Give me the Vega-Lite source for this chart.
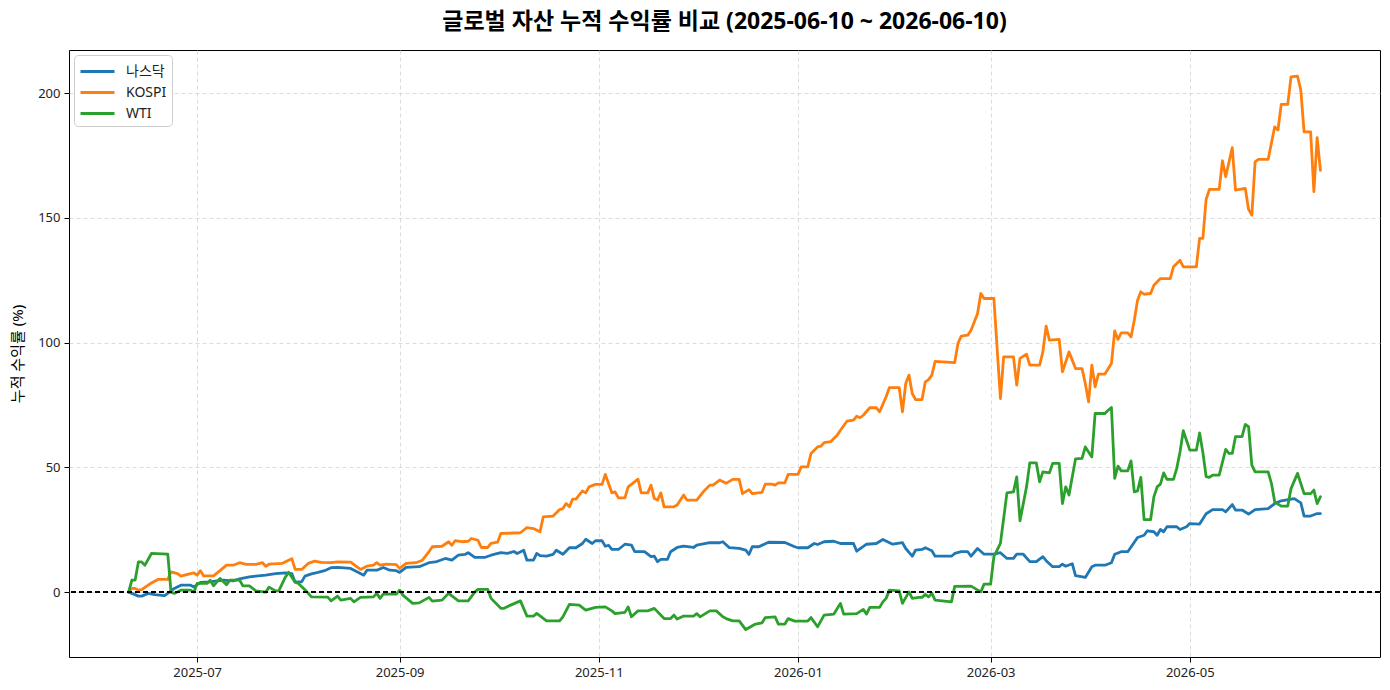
{
"$schema": "https://vega.github.io/schema/vega-lite/v6.json",
"autosize": "none",
"width": 1311,
"height": 607,
"padding": {"left": 69, "top": 50, "right": 10, "bottom": 33},
"background": "white",
"title": {"text": "글로벌 자산 누적 수익률 비교 (2025-06-10 ~ 2026-06-10)", "font": "Noto Sans, Noto Sans CJK KR", "fontSize": 23, "fontWeight": "bold", "color": "#000000", "anchor": "middle", "offset": 16},
"config": {
"font": "Noto Sans, Noto Sans CJK KR",
"view": {"stroke": "#000000", "strokeWidth": 1},
"axis": {"domain": false, "grid": true, "gridColor": "#d3d3d3", "gridDash": [4, 3], "gridWidth": 0.8, "tickColor": "#000000", "tickSize": 5, "labelFont": "Noto Sans, Noto Sans CJK KR", "labelFontSize": 13, "labelColor": "#222222", "labelPadding": 4, "titleFont": "Noto Sans, Noto Sans CJK KR", "titleFontWeight": "normal", "titleColor": "#000000"}
},
"data": {"values": [
{"date":"2025-06-10","asset":"나스닥","value":0},{"date":"2025-06-12","asset":"나스닥","value":-1},{"date":"2025-06-13","asset":"나스닥","value":-1.6},{"date":"2025-06-14","asset":"나스닥","value":-1.6},{"date":"2025-06-16","asset":"나스닥","value":-0.5},{"date":"2025-06-18","asset":"나스닥","value":-1},{"date":"2025-06-21","asset":"나스닥","value":-1.4},{"date":"2025-06-22","asset":"나스닥","value":-0.5},{"date":"2025-06-24","asset":"나스닥","value":1.5},{"date":"2025-06-26","asset":"나스닥","value":2.8},{"date":"2025-06-29","asset":"나스닥","value":2.8},{"date":"2025-06-30","asset":"나스닥","value":2.1},{"date":"2025-07-02","asset":"나스닥","value":3.9},{"date":"2025-07-05","asset":"나스닥","value":4.1},{"date":"2025-07-07","asset":"나스닥","value":4.5},{"date":"2025-07-09","asset":"나스닥","value":4.8},{"date":"2025-07-12","asset":"나스닥","value":4.5},{"date":"2025-07-14","asset":"나스닥","value":5.3},{"date":"2025-07-17","asset":"나스닥","value":6.1},{"date":"2025-07-19","asset":"나스닥","value":6.4},{"date":"2025-07-22","asset":"나스닥","value":6.8},{"date":"2025-07-25","asset":"나스닥","value":7.4},{"date":"2025-07-28","asset":"나스닥","value":7.7},{"date":"2025-07-30","asset":"나스닥","value":7.4},{"date":"2025-07-31","asset":"나스닥","value":4.1},{"date":"2025-08-02","asset":"나스닥","value":4.1},{"date":"2025-08-03","asset":"나스닥","value":6.4},{"date":"2025-08-05","asset":"나스닥","value":7.3},{"date":"2025-08-07","asset":"나스닥","value":7.9},{"date":"2025-08-09","asset":"나스닥","value":8.6},{"date":"2025-08-11","asset":"나스닥","value":9.8},{"date":"2025-08-13","asset":"나스닥","value":9.9},{"date":"2025-08-17","asset":"나스닥","value":9.5},{"date":"2025-08-20","asset":"나스닥","value":7.5},{"date":"2025-08-21","asset":"나스닥","value":6.8},{"date":"2025-08-22","asset":"나스닥","value":8.8},{"date":"2025-08-25","asset":"나스닥","value":8.8},{"date":"2025-08-27","asset":"나스닥","value":9.9},{"date":"2025-08-29","asset":"나스닥","value":8.8},{"date":"2025-08-31","asset":"나스닥","value":8.6},{"date":"2025-09-01","asset":"나스닥","value":7.9},{"date":"2025-09-03","asset":"나스닥","value":9.9},{"date":"2025-09-07","asset":"나스닥","value":10.2},{"date":"2025-09-10","asset":"나스닥","value":11.8},{"date":"2025-09-12","asset":"나스닥","value":12.1},{"date":"2025-09-15","asset":"나스닥","value":13.5},{"date":"2025-09-17","asset":"나스닥","value":12.8},{"date":"2025-09-19","asset":"나스닥","value":14.8},{"date":"2025-09-21","asset":"나스닥","value":15.1},{"date":"2025-09-22","asset":"나스닥","value":15.8},{"date":"2025-09-24","asset":"나스닥","value":13.9},{"date":"2025-09-27","asset":"나스닥","value":13.9},{"date":"2025-09-29","asset":"나스닥","value":14.8},{"date":"2025-10-02","asset":"나스닥","value":15.8},{"date":"2025-10-04","asset":"나스닥","value":15.5},{"date":"2025-10-06","asset":"나스닥","value":16.3},{"date":"2025-10-07","asset":"나스닥","value":15.5},{"date":"2025-10-09","asset":"나스닥","value":16.8},{"date":"2025-10-10","asset":"나스닥","value":12.8},{"date":"2025-10-12","asset":"나스닥","value":12.8},{"date":"2025-10-13","asset":"나스닥","value":15.5},{"date":"2025-10-14","asset":"나스닥","value":14.6},{"date":"2025-10-16","asset":"나스닥","value":14.4},{"date":"2025-10-18","asset":"나스닥","value":15.1},{"date":"2025-10-19","asset":"나스닥","value":16.8},{"date":"2025-10-21","asset":"나스닥","value":15.2},{"date":"2025-10-23","asset":"나스닥","value":17.8},{"date":"2025-10-25","asset":"나스닥","value":17.8},{"date":"2025-10-27","asset":"나스닥","value":19.5},{"date":"2025-10-28","asset":"나스닥","value":21.2},{"date":"2025-10-30","asset":"나스닥","value":19.5},{"date":"2025-10-31","asset":"나스닥","value":20.6},{"date":"2025-11-02","asset":"나스닥","value":20.6},{"date":"2025-11-03","asset":"나스닥","value":18.4},{"date":"2025-11-04","asset":"나스닥","value":18.8},{"date":"2025-11-05","asset":"나스닥","value":17.1},{"date":"2025-11-07","asset":"나스닥","value":17.1},{"date":"2025-11-09","asset":"나스닥","value":19.2},{"date":"2025-11-11","asset":"나스닥","value":18.8},{"date":"2025-11-12","asset":"나스닥","value":16.2},{"date":"2025-11-15","asset":"나스닥","value":16.2},{"date":"2025-11-17","asset":"나스닥","value":14.2},{"date":"2025-11-18","asset":"나스닥","value":14.4},{"date":"2025-11-19","asset":"나스닥","value":12.2},{"date":"2025-11-20","asset":"나스닥","value":13.1},{"date":"2025-11-22","asset":"나스닥","value":13.1},{"date":"2025-11-23","asset":"나스닥","value":16.2},{"date":"2025-11-25","asset":"나스닥","value":17.9},{"date":"2025-11-27","asset":"나스닥","value":18.4},{"date":"2025-11-30","asset":"나스닥","value":17.9},{"date":"2025-12-01","asset":"나스닥","value":18.8},{"date":"2025-12-05","asset":"나스닥","value":19.8},{"date":"2025-12-08","asset":"나스닥","value":19.8},{"date":"2025-12-09","asset":"나스닥","value":20.2},{"date":"2025-12-11","asset":"나스닥","value":17.8},{"date":"2025-12-14","asset":"나스닥","value":17.5},{"date":"2025-12-16","asset":"나스닥","value":16.8},{"date":"2025-12-17","asset":"나스닥","value":15.1},{"date":"2025-12-18","asset":"나스닥","value":18.2},{"date":"2025-12-20","asset":"나스닥","value":18.2},{"date":"2025-12-23","asset":"나스닥","value":20},{"date":"2025-12-28","asset":"나스닥","value":19.9},{"date":"2025-12-31","asset":"나스닥","value":18.2},{"date":"2026-01-01","asset":"나스닥","value":17.8},{"date":"2026-01-04","asset":"나스닥","value":17.8},{"date":"2026-01-06","asset":"나스닥","value":19.5},{"date":"2026-01-07","asset":"나스닥","value":19.1},{"date":"2026-01-09","asset":"나스닥","value":20.2},{"date":"2026-01-12","asset":"나스닥","value":20.4},{"date":"2026-01-14","asset":"나스닥","value":19.5},{"date":"2026-01-18","asset":"나스닥","value":19.5},{"date":"2026-01-19","asset":"나스닥","value":16.4},{"date":"2026-01-22","asset":"나스닥","value":19.2},{"date":"2026-01-25","asset":"나스닥","value":19.5},{"date":"2026-01-27","asset":"나스닥","value":21.1},{"date":"2026-01-30","asset":"나스닥","value":19.2},{"date":"2026-02-02","asset":"나스닥","value":19.8},{"date":"2026-02-03","asset":"나스닥","value":17.5},{"date":"2026-02-05","asset":"나스닥","value":14.4},{"date":"2026-02-06","asset":"나스닥","value":16.8},{"date":"2026-02-08","asset":"나스닥","value":17.1},{"date":"2026-02-09","asset":"나스닥","value":17.8},{"date":"2026-02-11","asset":"나스닥","value":16.6},{"date":"2026-02-12","asset":"나스닥","value":14.4},{"date":"2026-02-17","asset":"나스닥","value":14.4},{"date":"2026-02-18","asset":"나스닥","value":15.5},{"date":"2026-02-20","asset":"나스닥","value":16.2},{"date":"2026-02-22","asset":"나스닥","value":16.2},{"date":"2026-02-23","asset":"나스닥","value":14.4},{"date":"2026-02-25","asset":"나스닥","value":17.5},{"date":"2026-02-27","asset":"나스닥","value":15.2},{"date":"2026-03-02","asset":"나스닥","value":15.2},{"date":"2026-03-04","asset":"나스닥","value":15.8},{"date":"2026-03-06","asset":"나스닥","value":13.5},{"date":"2026-03-08","asset":"나스닥","value":13.5},{"date":"2026-03-09","asset":"나스닥","value":15.2},{"date":"2026-03-11","asset":"나스닥","value":15.2},{"date":"2026-03-13","asset":"나스닥","value":12.2},{"date":"2026-03-15","asset":"나스닥","value":12.2},{"date":"2026-03-17","asset":"나스닥","value":14.2},{"date":"2026-03-18","asset":"나스닥","value":12.6},{"date":"2026-03-20","asset":"나스닥","value":10.2},{"date":"2026-03-22","asset":"나스닥","value":10.2},{"date":"2026-03-23","asset":"나스닥","value":11.2},{"date":"2026-03-24","asset":"나스닥","value":10.4},{"date":"2026-03-26","asset":"나스닥","value":11.4},{"date":"2026-03-27","asset":"나스닥","value":6.6},{"date":"2026-03-30","asset":"나스닥","value":5.9},{"date":"2026-04-01","asset":"나스닥","value":10.2},{"date":"2026-04-02","asset":"나스닥","value":10.8},{"date":"2026-04-05","asset":"나스닥","value":10.8},{"date":"2026-04-07","asset":"나스닥","value":11.8},{"date":"2026-04-08","asset":"나스닥","value":15.2},{"date":"2026-04-10","asset":"나스닥","value":16.2},{"date":"2026-04-12","asset":"나스닥","value":16.2},{"date":"2026-04-15","asset":"나스닥","value":21.9},{"date":"2026-04-17","asset":"나스닥","value":22.8},{"date":"2026-04-18","asset":"나스닥","value":24.6},{"date":"2026-04-20","asset":"나스닥","value":24.2},{"date":"2026-04-21","asset":"나스닥","value":22.8},{"date":"2026-04-22","asset":"나스닥","value":25.1},{"date":"2026-04-23","asset":"나스닥","value":24.2},{"date":"2026-04-24","asset":"나스닥","value":26.2},{"date":"2026-04-27","asset":"나스닥","value":26.2},{"date":"2026-04-28","asset":"나스닥","value":25.1},{"date":"2026-04-30","asset":"나스닥","value":26.2},{"date":"2026-05-01","asset":"나스닥","value":27.5},{"date":"2026-05-04","asset":"나스닥","value":27.3},{"date":"2026-05-06","asset":"나스닥","value":31.4},{"date":"2026-05-08","asset":"나스닥","value":33.1},{"date":"2026-05-11","asset":"나스닥","value":33.1},{"date":"2026-05-12","asset":"나스닥","value":32.2},{"date":"2026-05-14","asset":"나스닥","value":35.1},{"date":"2026-05-15","asset":"나스닥","value":32.9},{"date":"2026-05-17","asset":"나스닥","value":32.9},{"date":"2026-05-19","asset":"나스닥","value":31.3},{"date":"2026-05-21","asset":"나스닥","value":33.1},{"date":"2026-05-25","asset":"나스닥","value":33.5},{"date":"2026-05-27","asset":"나스닥","value":35.5},{"date":"2026-05-29","asset":"나스닥","value":36.6},{"date":"2026-06-02","asset":"나스닥","value":37.5},{"date":"2026-06-04","asset":"나스닥","value":35.8},{"date":"2026-06-05","asset":"나스닥","value":30.5},{"date":"2026-06-07","asset":"나스닥","value":30.5},{"date":"2026-06-09","asset":"나스닥","value":31.5},{"date":"2026-06-10","asset":"나스닥","value":31.5},
{"date":"2025-06-10","asset":"KOSPI","value":0},{"date":"2025-06-11","asset":"KOSPI","value":1.5},{"date":"2025-06-12","asset":"KOSPI","value":1.5},{"date":"2025-06-13","asset":"KOSPI","value":0.8},{"date":"2025-06-14","asset":"KOSPI","value":1},{"date":"2025-06-16","asset":"KOSPI","value":2.8},{"date":"2025-06-17","asset":"KOSPI","value":3.7},{"date":"2025-06-19","asset":"KOSPI","value":5.1},{"date":"2025-06-22","asset":"KOSPI","value":5.1},{"date":"2025-06-23","asset":"KOSPI","value":8.1},{"date":"2025-06-25","asset":"KOSPI","value":7.4},{"date":"2025-06-26","asset":"KOSPI","value":6.4},{"date":"2025-06-29","asset":"KOSPI","value":7.4},{"date":"2025-06-30","asset":"KOSPI","value":7.7},{"date":"2025-07-01","asset":"KOSPI","value":6.8},{"date":"2025-07-02","asset":"KOSPI","value":8.6},{"date":"2025-07-03","asset":"KOSPI","value":6.5},{"date":"2025-07-06","asset":"KOSPI","value":6.5},{"date":"2025-07-08","asset":"KOSPI","value":8.6},{"date":"2025-07-10","asset":"KOSPI","value":10.8},{"date":"2025-07-12","asset":"KOSPI","value":10.8},{"date":"2025-07-14","asset":"KOSPI","value":11.8},{"date":"2025-07-16","asset":"KOSPI","value":11.1},{"date":"2025-07-19","asset":"KOSPI","value":11.1},{"date":"2025-07-21","asset":"KOSPI","value":11.8},{"date":"2025-07-22","asset":"KOSPI","value":10.4},{"date":"2025-07-23","asset":"KOSPI","value":11.2},{"date":"2025-07-27","asset":"KOSPI","value":11.5},{"date":"2025-07-29","asset":"KOSPI","value":12.8},{"date":"2025-07-30","asset":"KOSPI","value":13.4},{"date":"2025-07-31","asset":"KOSPI","value":9.1},{"date":"2025-08-02","asset":"KOSPI","value":9.1},{"date":"2025-08-04","asset":"KOSPI","value":11.5},{"date":"2025-08-06","asset":"KOSPI","value":12.4},{"date":"2025-08-08","asset":"KOSPI","value":11.9},{"date":"2025-08-11","asset":"KOSPI","value":11.8},{"date":"2025-08-13","asset":"KOSPI","value":12.1},{"date":"2025-08-17","asset":"KOSPI","value":12},{"date":"2025-08-20","asset":"KOSPI","value":9.1},{"date":"2025-08-22","asset":"KOSPI","value":10.4},{"date":"2025-08-24","asset":"KOSPI","value":10.8},{"date":"2025-08-25","asset":"KOSPI","value":11.8},{"date":"2025-08-26","asset":"KOSPI","value":10.8},{"date":"2025-08-28","asset":"KOSPI","value":11.2},{"date":"2025-08-31","asset":"KOSPI","value":11},{"date":"2025-09-01","asset":"KOSPI","value":9.5},{"date":"2025-09-03","asset":"KOSPI","value":11.5},{"date":"2025-09-06","asset":"KOSPI","value":11.8},{"date":"2025-09-08","asset":"KOSPI","value":12.8},{"date":"2025-09-10","asset":"KOSPI","value":16.2},{"date":"2025-09-11","asset":"KOSPI","value":18.2},{"date":"2025-09-14","asset":"KOSPI","value":18.4},{"date":"2025-09-16","asset":"KOSPI","value":20.2},{"date":"2025-09-17","asset":"KOSPI","value":18.8},{"date":"2025-09-18","asset":"KOSPI","value":20.6},{"date":"2025-09-20","asset":"KOSPI","value":20.2},{"date":"2025-09-22","asset":"KOSPI","value":20.4},{"date":"2025-09-23","asset":"KOSPI","value":21.5},{"date":"2025-09-25","asset":"KOSPI","value":20.8},{"date":"2025-09-26","asset":"KOSPI","value":17.9},{"date":"2025-09-28","asset":"KOSPI","value":17.9},{"date":"2025-09-29","asset":"KOSPI","value":19.5},{"date":"2025-10-01","asset":"KOSPI","value":20},{"date":"2025-10-02","asset":"KOSPI","value":23.5},{"date":"2025-10-08","asset":"KOSPI","value":23.8},{"date":"2025-10-10","asset":"KOSPI","value":25.9},{"date":"2025-10-12","asset":"KOSPI","value":25.5},{"date":"2025-10-14","asset":"KOSPI","value":24.2},{"date":"2025-10-15","asset":"KOSPI","value":30.2},{"date":"2025-10-18","asset":"KOSPI","value":30.5},{"date":"2025-10-20","asset":"KOSPI","value":33.1},{"date":"2025-10-21","asset":"KOSPI","value":33.5},{"date":"2025-10-22","asset":"KOSPI","value":35.5},{"date":"2025-10-23","asset":"KOSPI","value":34.2},{"date":"2025-10-24","asset":"KOSPI","value":37.3},{"date":"2025-10-25","asset":"KOSPI","value":37.3},{"date":"2025-10-27","asset":"KOSPI","value":40.6},{"date":"2025-10-28","asset":"KOSPI","value":39.8},{"date":"2025-10-29","asset":"KOSPI","value":42.2},{"date":"2025-10-31","asset":"KOSPI","value":43.2},{"date":"2025-11-02","asset":"KOSPI","value":43.2},{"date":"2025-11-03","asset":"KOSPI","value":47.2},{"date":"2025-11-05","asset":"KOSPI","value":39.8},{"date":"2025-11-06","asset":"KOSPI","value":40.2},{"date":"2025-11-07","asset":"KOSPI","value":37.8},{"date":"2025-11-09","asset":"KOSPI","value":37.8},{"date":"2025-11-10","asset":"KOSPI","value":42.2},{"date":"2025-11-13","asset":"KOSPI","value":45.3},{"date":"2025-11-14","asset":"KOSPI","value":39.8},{"date":"2025-11-16","asset":"KOSPI","value":39.8},{"date":"2025-11-17","asset":"KOSPI","value":42.9},{"date":"2025-11-18","asset":"KOSPI","value":37.5},{"date":"2025-11-19","asset":"KOSPI","value":36.9},{"date":"2025-11-20","asset":"KOSPI","value":39.8},{"date":"2025-11-21","asset":"KOSPI","value":34.2},{"date":"2025-11-24","asset":"KOSPI","value":34.2},{"date":"2025-11-25","asset":"KOSPI","value":34.9},{"date":"2025-11-27","asset":"KOSPI","value":38.9},{"date":"2025-11-28","asset":"KOSPI","value":36.9},{"date":"2025-12-01","asset":"KOSPI","value":36.9},{"date":"2025-12-03","asset":"KOSPI","value":40.2},{"date":"2025-12-05","asset":"KOSPI","value":42.9},{"date":"2025-12-06","asset":"KOSPI","value":42.9},{"date":"2025-12-08","asset":"KOSPI","value":44.9},{"date":"2025-12-10","asset":"KOSPI","value":43.6},{"date":"2025-12-12","asset":"KOSPI","value":45.2},{"date":"2025-12-14","asset":"KOSPI","value":45.2},{"date":"2025-12-15","asset":"KOSPI","value":39.5},{"date":"2025-12-17","asset":"KOSPI","value":41.1},{"date":"2025-12-18","asset":"KOSPI","value":39.5},{"date":"2025-12-21","asset":"KOSPI","value":40},{"date":"2025-12-22","asset":"KOSPI","value":43.3},{"date":"2025-12-24","asset":"KOSPI","value":43.3},{"date":"2025-12-25","asset":"KOSPI","value":42.9},{"date":"2025-12-26","asset":"KOSPI","value":43.8},{"date":"2025-12-28","asset":"KOSPI","value":43.8},{"date":"2025-12-29","asset":"KOSPI","value":47.2},{"date":"2026-01-01","asset":"KOSPI","value":47.2},{"date":"2026-01-02","asset":"KOSPI","value":50.2},{"date":"2026-01-04","asset":"KOSPI","value":50.2},{"date":"2026-01-05","asset":"KOSPI","value":55.6},{"date":"2026-01-07","asset":"KOSPI","value":58.2},{"date":"2026-01-08","asset":"KOSPI","value":58.5},{"date":"2026-01-09","asset":"KOSPI","value":59.9},{"date":"2026-01-11","asset":"KOSPI","value":60.3},{"date":"2026-01-13","asset":"KOSPI","value":62.9},{"date":"2026-01-14","asset":"KOSPI","value":64.9},{"date":"2026-01-16","asset":"KOSPI","value":68.5},{"date":"2026-01-18","asset":"KOSPI","value":68.9},{"date":"2026-01-19","asset":"KOSPI","value":70.5},{"date":"2026-01-20","asset":"KOSPI","value":69.9},{"date":"2026-01-21","asset":"KOSPI","value":70.9},{"date":"2026-01-23","asset":"KOSPI","value":73.9},{"date":"2026-01-25","asset":"KOSPI","value":73.9},{"date":"2026-01-26","asset":"KOSPI","value":72.3},{"date":"2026-01-28","asset":"KOSPI","value":78.3},{"date":"2026-01-29","asset":"KOSPI","value":82},{"date":"2026-02-01","asset":"KOSPI","value":82},{"date":"2026-02-02","asset":"KOSPI","value":72.3},{"date":"2026-02-03","asset":"KOSPI","value":83.6},{"date":"2026-02-04","asset":"KOSPI","value":87},{"date":"2026-02-05","asset":"KOSPI","value":79.6},{"date":"2026-02-06","asset":"KOSPI","value":77.2},{"date":"2026-02-08","asset":"KOSPI","value":77.2},{"date":"2026-02-09","asset":"KOSPI","value":84.3},{"date":"2026-02-10","asset":"KOSPI","value":85.2},{"date":"2026-02-11","asset":"KOSPI","value":87},{"date":"2026-02-12","asset":"KOSPI","value":92.5},{"date":"2026-02-18","asset":"KOSPI","value":92},{"date":"2026-02-19","asset":"KOSPI","value":99.7},{"date":"2026-02-20","asset":"KOSPI","value":102.6},{"date":"2026-02-22","asset":"KOSPI","value":103},{"date":"2026-02-23","asset":"KOSPI","value":105},{"date":"2026-02-25","asset":"KOSPI","value":111.7},{"date":"2026-02-26","asset":"KOSPI","value":119.7},{"date":"2026-02-27","asset":"KOSPI","value":117.7},{"date":"2026-03-02","asset":"KOSPI","value":117.7},{"date":"2026-03-04","asset":"KOSPI","value":77.6},{"date":"2026-03-05","asset":"KOSPI","value":94.3},{"date":"2026-03-08","asset":"KOSPI","value":94.3},{"date":"2026-03-09","asset":"KOSPI","value":83},{"date":"2026-03-10","asset":"KOSPI","value":93.7},{"date":"2026-03-12","asset":"KOSPI","value":95.4},{"date":"2026-03-13","asset":"KOSPI","value":91},{"date":"2026-03-16","asset":"KOSPI","value":91},{"date":"2026-03-17","asset":"KOSPI","value":96.3},{"date":"2026-03-18","asset":"KOSPI","value":106.6},{"date":"2026-03-19","asset":"KOSPI","value":101},{"date":"2026-03-22","asset":"KOSPI","value":101.3},{"date":"2026-03-23","asset":"KOSPI","value":88.3},{"date":"2026-03-25","asset":"KOSPI","value":96.3},{"date":"2026-03-27","asset":"KOSPI","value":89.6},{"date":"2026-03-29","asset":"KOSPI","value":89.6},{"date":"2026-03-30","asset":"KOSPI","value":83.6},{"date":"2026-03-31","asset":"KOSPI","value":76.3},{"date":"2026-04-01","asset":"KOSPI","value":91},{"date":"2026-04-02","asset":"KOSPI","value":82.3},{"date":"2026-04-03","asset":"KOSPI","value":87.4},{"date":"2026-04-05","asset":"KOSPI","value":87.4},{"date":"2026-04-07","asset":"KOSPI","value":91.6},{"date":"2026-04-08","asset":"KOSPI","value":104.7},{"date":"2026-04-09","asset":"KOSPI","value":101.3},{"date":"2026-04-10","asset":"KOSPI","value":103.9},{"date":"2026-04-12","asset":"KOSPI","value":103.9},{"date":"2026-04-13","asset":"KOSPI","value":102.3},{"date":"2026-04-14","asset":"KOSPI","value":109},{"date":"2026-04-15","asset":"KOSPI","value":117},{"date":"2026-04-16","asset":"KOSPI","value":120.4},{"date":"2026-04-17","asset":"KOSPI","value":119.4},{"date":"2026-04-19","asset":"KOSPI","value":119.7},{"date":"2026-04-20","asset":"KOSPI","value":123},{"date":"2026-04-22","asset":"KOSPI","value":125.7},{"date":"2026-04-25","asset":"KOSPI","value":125.7},{"date":"2026-04-26","asset":"KOSPI","value":130.4},{"date":"2026-04-28","asset":"KOSPI","value":133},{"date":"2026-04-29","asset":"KOSPI","value":130.4},{"date":"2026-05-03","asset":"KOSPI","value":130.4},{"date":"2026-05-04","asset":"KOSPI","value":141.8},{"date":"2026-05-05","asset":"KOSPI","value":141.8},{"date":"2026-05-06","asset":"KOSPI","value":157.4},{"date":"2026-05-07","asset":"KOSPI","value":161.4},{"date":"2026-05-10","asset":"KOSPI","value":161.4},{"date":"2026-05-11","asset":"KOSPI","value":172.9},{"date":"2026-05-12","asset":"KOSPI","value":166.5},{"date":"2026-05-14","asset":"KOSPI","value":178.2},{"date":"2026-05-15","asset":"KOSPI","value":161.1},{"date":"2026-05-18","asset":"KOSPI","value":161.8},{"date":"2026-05-19","asset":"KOSPI","value":153.4},{"date":"2026-05-20","asset":"KOSPI","value":151.1},{"date":"2026-05-21","asset":"KOSPI","value":172.5},{"date":"2026-05-22","asset":"KOSPI","value":173.5},{"date":"2026-05-25","asset":"KOSPI","value":173.5},{"date":"2026-05-27","asset":"KOSPI","value":186.5},{"date":"2026-05-28","asset":"KOSPI","value":185.2},{"date":"2026-05-29","asset":"KOSPI","value":195.5},{"date":"2026-05-31","asset":"KOSPI","value":195.5},{"date":"2026-06-01","asset":"KOSPI","value":206.5},{"date":"2026-06-03","asset":"KOSPI","value":206.8},{"date":"2026-06-04","asset":"KOSPI","value":201.2},{"date":"2026-06-05","asset":"KOSPI","value":184.5},{"date":"2026-06-07","asset":"KOSPI","value":184.5},{"date":"2026-06-08","asset":"KOSPI","value":160.5},{"date":"2026-06-09","asset":"KOSPI","value":182.2},{"date":"2026-06-10","asset":"KOSPI","value":169.1},
{"date":"2025-06-10","asset":"WTI","value":0},{"date":"2025-06-11","asset":"WTI","value":4.8},{"date":"2025-06-12","asset":"WTI","value":4.8},{"date":"2025-06-13","asset":"WTI","value":12.1},{"date":"2025-06-14","asset":"WTI","value":12.1},{"date":"2025-06-15","asset":"WTI","value":10.8},{"date":"2025-06-17","asset":"WTI","value":15.5},{"date":"2025-06-22","asset":"WTI","value":15.2},{"date":"2025-06-23","asset":"WTI","value":0},{"date":"2025-06-24","asset":"WTI","value":-0.5},{"date":"2025-06-26","asset":"WTI","value":0.8},{"date":"2025-06-29","asset":"WTI","value":0.8},{"date":"2025-06-30","asset":"WTI","value":0},{"date":"2025-07-01","asset":"WTI","value":3.5},{"date":"2025-07-04","asset":"WTI","value":3.5},{"date":"2025-07-05","asset":"WTI","value":4.8},{"date":"2025-07-06","asset":"WTI","value":2.5},{"date":"2025-07-08","asset":"WTI","value":5.5},{"date":"2025-07-10","asset":"WTI","value":3},{"date":"2025-07-11","asset":"WTI","value":4.8},{"date":"2025-07-14","asset":"WTI","value":4.8},{"date":"2025-07-15","asset":"WTI","value":2.5},{"date":"2025-07-17","asset":"WTI","value":2.5},{"date":"2025-07-19","asset":"WTI","value":0.5},{"date":"2025-07-22","asset":"WTI","value":0},{"date":"2025-07-23","asset":"WTI","value":2},{"date":"2025-07-25","asset":"WTI","value":0.5},{"date":"2025-07-26","asset":"WTI","value":0.5},{"date":"2025-07-28","asset":"WTI","value":6},{"date":"2025-07-29","asset":"WTI","value":8},{"date":"2025-07-31","asset":"WTI","value":4},{"date":"2025-08-01","asset":"WTI","value":3.5},{"date":"2025-08-03","asset":"WTI","value":1},{"date":"2025-08-05","asset":"WTI","value":-1.9},{"date":"2025-08-10","asset":"WTI","value":-2},{"date":"2025-08-11","asset":"WTI","value":-3.5},{"date":"2025-08-13","asset":"WTI","value":-1.6},{"date":"2025-08-14","asset":"WTI","value":-3.2},{"date":"2025-08-17","asset":"WTI","value":-2.5},{"date":"2025-08-18","asset":"WTI","value":-3.9},{"date":"2025-08-20","asset":"WTI","value":-2.1},{"date":"2025-08-24","asset":"WTI","value":-1.9},{"date":"2025-08-25","asset":"WTI","value":-0.5},{"date":"2025-08-26","asset":"WTI","value":-2.5},{"date":"2025-08-27","asset":"WTI","value":-0.8},{"date":"2025-08-31","asset":"WTI","value":-0.8},{"date":"2025-09-01","asset":"WTI","value":0.8},{"date":"2025-09-02","asset":"WTI","value":-1.2},{"date":"2025-09-05","asset":"WTI","value":-4.5},{"date":"2025-09-07","asset":"WTI","value":-4.3},{"date":"2025-09-10","asset":"WTI","value":-2.1},{"date":"2025-09-11","asset":"WTI","value":-3.6},{"date":"2025-09-14","asset":"WTI","value":-3.2},{"date":"2025-09-16","asset":"WTI","value":-0.5},{"date":"2025-09-19","asset":"WTI","value":-3.5},{"date":"2025-09-22","asset":"WTI","value":-3.5},{"date":"2025-09-24","asset":"WTI","value":0},{"date":"2025-09-25","asset":"WTI","value":1.1},{"date":"2025-09-28","asset":"WTI","value":1.1},{"date":"2025-09-29","asset":"WTI","value":-2.5},{"date":"2025-10-02","asset":"WTI","value":-6.5},{"date":"2025-10-03","asset":"WTI","value":-6.5},{"date":"2025-10-05","asset":"WTI","value":-5.2},{"date":"2025-10-08","asset":"WTI","value":-3.5},{"date":"2025-10-10","asset":"WTI","value":-9.6},{"date":"2025-10-12","asset":"WTI","value":-9.6},{"date":"2025-10-13","asset":"WTI","value":-8.5},{"date":"2025-10-16","asset":"WTI","value":-11.5},{"date":"2025-10-20","asset":"WTI","value":-11.5},{"date":"2025-10-21","asset":"WTI","value":-9.9},{"date":"2025-10-23","asset":"WTI","value":-4.9},{"date":"2025-10-26","asset":"WTI","value":-5.2},{"date":"2025-10-28","asset":"WTI","value":-7.2},{"date":"2025-10-31","asset":"WTI","value":-6.1},{"date":"2025-11-03","asset":"WTI","value":-5.9},{"date":"2025-11-05","asset":"WTI","value":-7.5},{"date":"2025-11-06","asset":"WTI","value":-8.6},{"date":"2025-11-09","asset":"WTI","value":-8.1},{"date":"2025-11-10","asset":"WTI","value":-5.9},{"date":"2025-11-11","asset":"WTI","value":-9.9},{"date":"2025-11-13","asset":"WTI","value":-7.5},{"date":"2025-11-16","asset":"WTI","value":-7.5},{"date":"2025-11-18","asset":"WTI","value":-6.5},{"date":"2025-11-21","asset":"WTI","value":-10.6},{"date":"2025-11-23","asset":"WTI","value":-10.6},{"date":"2025-11-24","asset":"WTI","value":-9.2},{"date":"2025-11-25","asset":"WTI","value":-10.8},{"date":"2025-11-27","asset":"WTI","value":-9.6},{"date":"2025-11-30","asset":"WTI","value":-9.6},{"date":"2025-12-01","asset":"WTI","value":-8.6},{"date":"2025-12-02","asset":"WTI","value":-9.9},{"date":"2025-12-05","asset":"WTI","value":-7.5},{"date":"2025-12-07","asset":"WTI","value":-7.5},{"date":"2025-12-09","asset":"WTI","value":-9.9},{"date":"2025-12-10","asset":"WTI","value":-10.6},{"date":"2025-12-12","asset":"WTI","value":-11.5},{"date":"2025-12-14","asset":"WTI","value":-11.5},{"date":"2025-12-16","asset":"WTI","value":-15},{"date":"2025-12-19","asset":"WTI","value":-12.8},{"date":"2025-12-21","asset":"WTI","value":-12.3},{"date":"2025-12-22","asset":"WTI","value":-10.2},{"date":"2025-12-25","asset":"WTI","value":-9.9},{"date":"2025-12-26","asset":"WTI","value":-12.8},{"date":"2025-12-28","asset":"WTI","value":-12.8},{"date":"2025-12-29","asset":"WTI","value":-10.6},{"date":"2025-12-31","asset":"WTI","value":-11.6},{"date":"2026-01-04","asset":"WTI","value":-11.6},{"date":"2026-01-05","asset":"WTI","value":-10.2},{"date":"2026-01-07","asset":"WTI","value":-13.9},{"date":"2026-01-09","asset":"WTI","value":-9.2},{"date":"2026-01-12","asset":"WTI","value":-8.8},{"date":"2026-01-14","asset":"WTI","value":-4.5},{"date":"2026-01-15","asset":"WTI","value":-8.8},{"date":"2026-01-19","asset":"WTI","value":-8.6},{"date":"2026-01-21","asset":"WTI","value":-6.9},{"date":"2026-01-22","asset":"WTI","value":-8.8},{"date":"2026-01-23","asset":"WTI","value":-6.1},{"date":"2026-01-26","asset":"WTI","value":-6.1},{"date":"2026-01-27","asset":"WTI","value":-3.9},{"date":"2026-01-28","asset":"WTI","value":-2.5},{"date":"2026-01-29","asset":"WTI","value":0.8},{"date":"2026-02-01","asset":"WTI","value":0.5},{"date":"2026-02-02","asset":"WTI","value":-4.5},{"date":"2026-02-04","asset":"WTI","value":0.1},{"date":"2026-02-05","asset":"WTI","value":-2.5},{"date":"2026-02-07","asset":"WTI","value":-2.1},{"date":"2026-02-08","asset":"WTI","value":-2.1},{"date":"2026-02-09","asset":"WTI","value":-0.9},{"date":"2026-02-10","asset":"WTI","value":-1.9},{"date":"2026-02-11","asset":"WTI","value":-0.5},{"date":"2026-02-12","asset":"WTI","value":-3.2},{"date":"2026-02-17","asset":"WTI","value":-3.9},{"date":"2026-02-18","asset":"WTI","value":2.3},{"date":"2026-02-23","asset":"WTI","value":2.4},{"date":"2026-02-26","asset":"WTI","value":0.1},{"date":"2026-02-27","asset":"WTI","value":3.2},{"date":"2026-03-01","asset":"WTI","value":3.2},{"date":"2026-03-02","asset":"WTI","value":14.2},{"date":"2026-03-04","asset":"WTI","value":19.5},{"date":"2026-03-06","asset":"WTI","value":39.8},{"date":"2026-03-08","asset":"WTI","value":40.2},{"date":"2026-03-09","asset":"WTI","value":46.2},{"date":"2026-03-10","asset":"WTI","value":28.6},{"date":"2026-03-12","asset":"WTI","value":42.2},{"date":"2026-03-13","asset":"WTI","value":51.8},{"date":"2026-03-15","asset":"WTI","value":51.8},{"date":"2026-03-16","asset":"WTI","value":44.2},{"date":"2026-03-17","asset":"WTI","value":48.2},{"date":"2026-03-19","asset":"WTI","value":47.8},{"date":"2026-03-20","asset":"WTI","value":51.6},{"date":"2026-03-22","asset":"WTI","value":51.6},{"date":"2026-03-23","asset":"WTI","value":35.5},{"date":"2026-03-24","asset":"WTI","value":42.2},{"date":"2026-03-25","asset":"WTI","value":38.9},{"date":"2026-03-27","asset":"WTI","value":53.4},{"date":"2026-03-29","asset":"WTI","value":53.6},{"date":"2026-03-30","asset":"WTI","value":58.2},{"date":"2026-04-01","asset":"WTI","value":54.2},{"date":"2026-04-02","asset":"WTI","value":71.6},{"date":"2026-04-05","asset":"WTI","value":71.6},{"date":"2026-04-06","asset":"WTI","value":72.9},{"date":"2026-04-07","asset":"WTI","value":74},{"date":"2026-04-08","asset":"WTI","value":45.6},{"date":"2026-04-09","asset":"WTI","value":50.5},{"date":"2026-04-10","asset":"WTI","value":48.6},{"date":"2026-04-12","asset":"WTI","value":48.6},{"date":"2026-04-13","asset":"WTI","value":52.6},{"date":"2026-04-14","asset":"WTI","value":40.2},{"date":"2026-04-15","asset":"WTI","value":40.6},{"date":"2026-04-16","asset":"WTI","value":46},{"date":"2026-04-17","asset":"WTI","value":29.1},{"date":"2026-04-19","asset":"WTI","value":29.1},{"date":"2026-04-20","asset":"WTI","value":38.2},{"date":"2026-04-21","asset":"WTI","value":42.2},{"date":"2026-04-22","asset":"WTI","value":43.3},{"date":"2026-04-23","asset":"WTI","value":47.8},{"date":"2026-04-24","asset":"WTI","value":45.2},{"date":"2026-04-26","asset":"WTI","value":45.2},{"date":"2026-04-27","asset":"WTI","value":49.6},{"date":"2026-04-28","asset":"WTI","value":56.2},{"date":"2026-04-29","asset":"WTI","value":64.7},{"date":"2026-05-01","asset":"WTI","value":56.9},{"date":"2026-05-03","asset":"WTI","value":56.9},{"date":"2026-05-04","asset":"WTI","value":63.8},{"date":"2026-05-05","asset":"WTI","value":56},{"date":"2026-05-06","asset":"WTI","value":46.3},{"date":"2026-05-07","asset":"WTI","value":46},{"date":"2026-05-08","asset":"WTI","value":46.9},{"date":"2026-05-10","asset":"WTI","value":46.9},{"date":"2026-05-12","asset":"WTI","value":57.2},{"date":"2026-05-13","asset":"WTI","value":55.6},{"date":"2026-05-14","asset":"WTI","value":55.6},{"date":"2026-05-15","asset":"WTI","value":62.3},{"date":"2026-05-17","asset":"WTI","value":62.3},{"date":"2026-05-18","asset":"WTI","value":67.2},{"date":"2026-05-19","asset":"WTI","value":66.3},{"date":"2026-05-20","asset":"WTI","value":50.9},{"date":"2026-05-21","asset":"WTI","value":48.2},{"date":"2026-05-25","asset":"WTI","value":48.2},{"date":"2026-05-26","asset":"WTI","value":43.6},{"date":"2026-05-27","asset":"WTI","value":36.2},{"date":"2026-05-29","asset":"WTI","value":34.5},{"date":"2026-05-31","asset":"WTI","value":34.5},{"date":"2026-06-01","asset":"WTI","value":41.5},{"date":"2026-06-03","asset":"WTI","value":47.6},{"date":"2026-06-05","asset":"WTI","value":39.5},{"date":"2026-06-07","asset":"WTI","value":39.5},{"date":"2026-06-08","asset":"WTI","value":40.9},{"date":"2026-06-09","asset":"WTI","value":35.5},{"date":"2026-06-10","asset":"WTI","value":38.2}
]},
"layer": [
{
"mark": {"type": "line", "strokeWidth": 2.8, "strokeJoin": "round", "strokeCap": "round", "clip": true},
"encoding": {
"x": {"field": "date", "type": "temporal", "title": null,
"scale": {"type": "utc", "domain": [{"year": 2025, "month": 5, "date": 22, "hours": 18, "utc": true}, {"year": 2026, "month": 6, "date": 28, "hours": 6, "utc": true}]},
"axis": {"labelExpr": "utcFormat(datum.value, '%Y-%m')", "values": [{"year": 2025, "month": 7, "date": 1, "utc": true}, {"year": 2025, "month": 9, "date": 1, "utc": true}, {"year": 2025, "month": 11, "date": 1, "utc": true}, {"year": 2026, "month": 1, "date": 1, "utc": true}, {"year": 2026, "month": 3, "date": 1, "utc": true}, {"year": 2026, "month": 5, "date": 1, "utc": true}]}},
"y": {"field": "value", "type": "quantitative", "title": "누적 수익률 (%)",
"scale": {"domain": [-26, 217.3], "nice": false, "zero": false},
"axis": {"values": [0, 50, 100, 150, 200], "titleFontSize": 15, "titlePadding": 12}},
"color": {"field": "asset", "type": "nominal", "title": null,
"scale": {"domain": ["나스닥", "KOSPI", "WTI"], "range": ["#1f77b4", "#ff7f0e", "#2ca02c"]},
"legend": {"orient": "top-left", "offset": 5, "padding": 5, "fillColor": "white", "strokeColor": "#cccccc", "cornerRadius": 4, "symbolType": "M-1.7,0H1.7", "symbolSize": 400, "symbolOffset": 7, "symbolStrokeWidth": 3, "symbolFillColor": "transparent", "labelFontSize": 14, "labelFont": "Noto Sans, Noto Sans CJK KR", "labelColor": "#222222", "labelOffset": 17, "rowPadding": 2}}
}
},
{
"mark": {"type": "rule", "color": "#000000", "strokeWidth": 1.2, "strokeDash": [5, 3]},
"encoding": {"y": {"datum": 0}}
}
]
}
